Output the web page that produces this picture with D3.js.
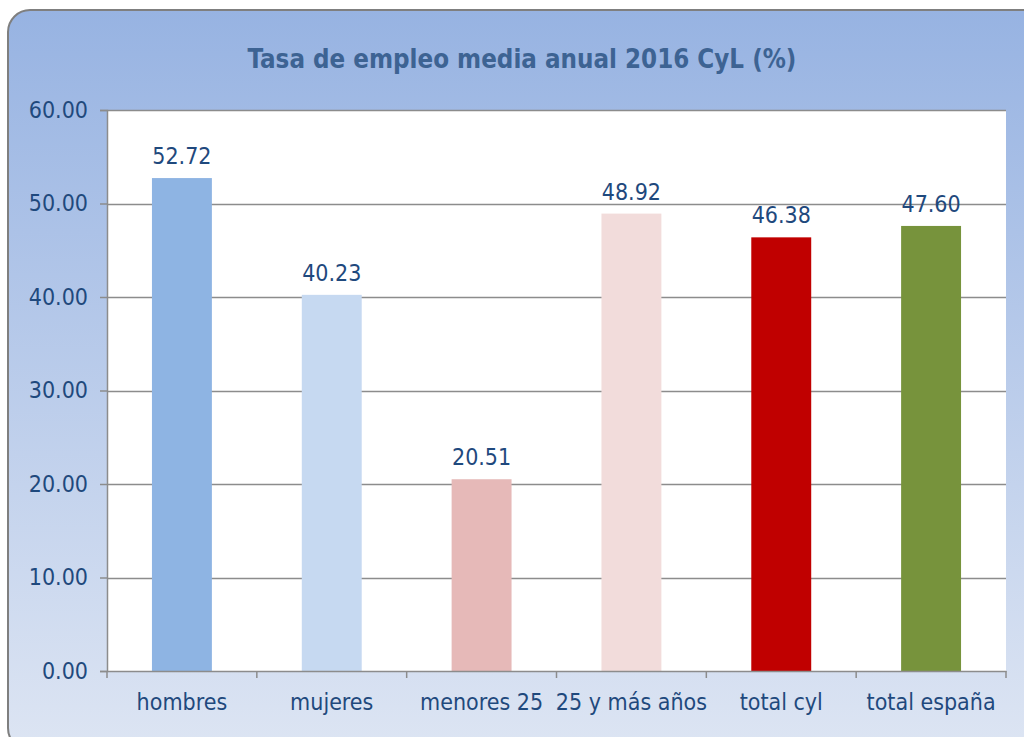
<!DOCTYPE html>
<html>
<head>
<meta charset="utf-8">
<script src="https://cdn.jsdelivr.net/npm/d3@7"></script>
<style>
  body { margin: 0; background: #fff; }
  svg text { font-family: "DejaVu Sans Condensed", "DejaVu Sans", sans-serif; font-stretch: condensed; }
</style>
</head>
<body>
<div id="chart"></div>
<script>
// Data
const categories = ["hombres", "mujeres", "menores 25", "25 y más años", "total cyl", "total españa"];
const values = [52.72, 40.23, 20.51, 48.92, 46.38, 47.60];
const barColors = ["#8eb4e3", "#c6d9f1", "#e6b9b8", "#f2dcdb", "#c00000", "#77933c"];
const yTicks = [0, 10, 20, 30, 40, 50, 60];

const W = 1024, H = 737;
const plot = {left: 107, right: 1006, top: 110, bottom: 671};
const fontSize = "23px";

const svg = d3.select("#chart").append("svg")
    .attr("width", W)
    .attr("height", H);

// Background gradient for the frame
const defs = svg.append("defs");
const grad = defs.append("linearGradient")
    .attr("id", "bg")
    .attr("x1", 0).attr("y1", 0).attr("x2", 0).attr("y2", 1);
grad.append("stop").attr("offset", "0%").attr("stop-color", "#97b3e2");
grad.append("stop").attr("offset", "100%").attr("stop-color", "#dde5f3");

svg.append("rect")
    .attr("x", 8).attr("y", 10)
    .attr("width", 1040).attr("height", 740)
    .attr("rx", 22).attr("ry", 22)
    .attr("fill", "url(#bg)")
    .attr("stroke", "#7f7f7f")
    .attr("stroke-width", 2);

// Title
svg.append("text")
    .attr("x", 522)
    .attr("y", 68)
    .attr("text-anchor", "middle")
    .attr("font-size", "25.7px")
    .attr("font-weight", "bold")
    .attr("fill", "#3d6393")
    .text("Tasa de empleo media anual 2016 CyL (%)");

// Plot area background
svg.append("rect")
    .attr("x", plot.left).attr("y", plot.top)
    .attr("width", plot.right - plot.left)
    .attr("height", plot.bottom - plot.top)
    .attr("fill", "#fff");

// Scales
const x = d3.scaleBand()
    .domain(categories)
    .range([plot.left, plot.right])
    .paddingInner(0).paddingOuter(0);

const y = d3.scaleLinear()
    .domain([0, 60])
    .range([plot.bottom, plot.top]);

// Gridlines
svg.append("g")
  .selectAll("line")
  .data(yTicks.filter(d => d > 0))
  .join("line")
    .attr("x1", plot.left)
    .attr("x2", plot.right)
    .attr("y1", d => Math.round(y(d)) + 0.5)
    .attr("y2", d => Math.round(y(d)) + 0.5)
    .attr("stroke", "#8c8c8c")
    .attr("stroke-width", 1.5);

// Bars
svg.append("g")
  .selectAll("rect")
  .data(values)
  .join("rect")
    .attr("x", (d, i) => x(categories[i]) + x.bandwidth() * 0.3)
    .attr("width", x.bandwidth() * 0.4)
    .attr("y", d => y(d))
    .attr("height", d => y(0) - y(d))
    .attr("fill", (d, i) => barColors[i]);

// Value labels
svg.append("g")
  .selectAll("text")
  .data(values)
  .join("text")
    .attr("x", (d, i) => x(categories[i]) + x.bandwidth() / 2)
    .attr("y", d => y(d) - 14)
    .attr("text-anchor", "middle")
    .attr("font-size", fontSize)
    .attr("fill", "#1f497d")
    .text(d => d.toFixed(2));

// Y axis
const yAxis = svg.append("g")
    .attr("transform", `translate(${plot.left},0)`)
    .call(d3.axisLeft(y).tickValues(yTicks).tickFormat(d3.format(".2f")).tickSize(7).tickPadding(12));
yAxis.select(".domain").attr("stroke", "#8c8c8c").attr("stroke-width", 1.5);
yAxis.selectAll(".tick line").attr("stroke", "#8c8c8c").attr("stroke-width", 1.5);
yAxis.selectAll("text")
    .attr("font-size", fontSize)
    .attr("fill", "#1f497d")
    .style("font-family", "DejaVu Sans Condensed, sans-serif");

// X axis
const xTickPos = d3.range(categories.length + 1).map(i => plot.left + i * x.step());
const xAxis = svg.append("g")
    .attr("transform", `translate(0,${plot.bottom})`)
    .call(d3.axisBottom(x).tickSize(0).tickPadding(23));
xAxis.select(".domain").attr("stroke", "#8c8c8c").attr("stroke-width", 1.5);
xAxis.selectAll("text")
    .attr("font-size", fontSize)
    .attr("fill", "#1f497d")
    .style("font-family", "DejaVu Sans Condensed, sans-serif");
xAxis.selectAll(".sep")
  .data(xTickPos)
  .join("line")
    .attr("class", "sep")
    .attr("x1", d => d).attr("x2", d => d)
    .attr("y1", 0).attr("y2", 7)
    .attr("stroke", "#8c8c8c")
    .attr("stroke-width", 1.5);
</script>
</body>
</html>
